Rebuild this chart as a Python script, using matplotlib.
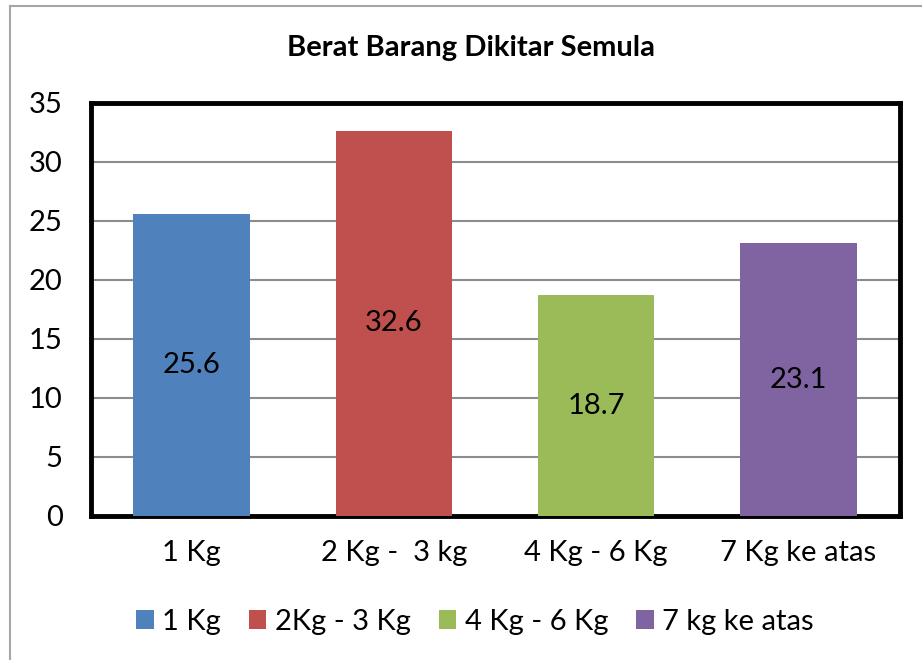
import matplotlib
matplotlib.use("Agg")
import matplotlib.pyplot as plt
from matplotlib.patches import Patch
from matplotlib.lines import Line2D

plt.rcParams['font.family'] = ['Lato', 'DejaVu Sans']

title = "Berat Barang Dikitar Semula"
categories = ["1 Kg", "2 Kg -  3 kg", "4 Kg - 6 Kg", "7 Kg ke atas"]
legend_labels = ["1 Kg", "2Kg - 3 Kg", "4 Kg - 6 Kg", "7 kg ke atas"]
values = [25.6, 32.6, 18.7, 23.1]
colors = ["#4F81BD", "#C0504D", "#9BBB59", "#8064A2"]
yticks = [0, 5, 10, 15, 20, 25, 30, 35]

W, H = 922, 660
FS = 21
fig = plt.figure(figsize=(W / 100, H / 100), dpi=100)
fig.patch.set_facecolor("white")

# chart-area border (left and top edges)
fig.add_artist(Line2D([10 / W, 10 / W], [0, 1 - 6 / H], transform=fig.transFigure,
                      color="#a6a6a6", lw=1.5))
fig.add_artist(Line2D([10 / W, 1], [1 - 6 / H, 1 - 6 / H], transform=fig.transFigure,
                      color="#a6a6a6", lw=1.5))

left, right, top, bottom = 90.5, 899.5, 102.5, 516
ax = fig.add_axes([left / W, 1 - bottom / H, (right - left) / W, (bottom - top) / H])

x = range(len(categories))
bars = ax.bar(x, values, width=0.575, color=colors, zorder=3)
for xi, v in zip(x, values):
    ax.text(xi, v / 2, f"{v}", ha="center", va="center", fontsize=FS, color="black", zorder=4)

ax.set_xlim(-0.5, len(categories) - 0.5)
ax.set_ylim(0, 35)
ax.set_yticks(yticks)
ax.set_yticklabels([str(t) for t in yticks], fontsize=FS)
ax.set_xticks(list(x))
ax.set_xticklabels(categories, fontsize=FS)
ax.tick_params(axis="y", length=0, pad=20)
ax.tick_params(axis="x", length=0, pad=17)
ax.yaxis.grid(True, color="#8c8c8c", lw=1.5, zorder=1)
ax.set_axisbelow(True)
for s in ax.spines.values():
    s.set_linewidth(3.5)
    s.set_color("black")

fig.text(471 / W, 1 - 48 / H, title, ha="center", va="center", fontsize=FS, fontweight="bold")

handles = [Patch(facecolor=c, edgecolor="none") for c in colors]
fig.legend(handles, legend_labels, loc="center", bbox_to_anchor=(475 / W, 1 - 622 / H),
           ncol=4, frameon=False, fontsize=FS, handlelength=0.6, handleheight=0.6,
           handletextpad=0.3, columnspacing=0.95)

fig.savefig("out.png", dpi=100)
